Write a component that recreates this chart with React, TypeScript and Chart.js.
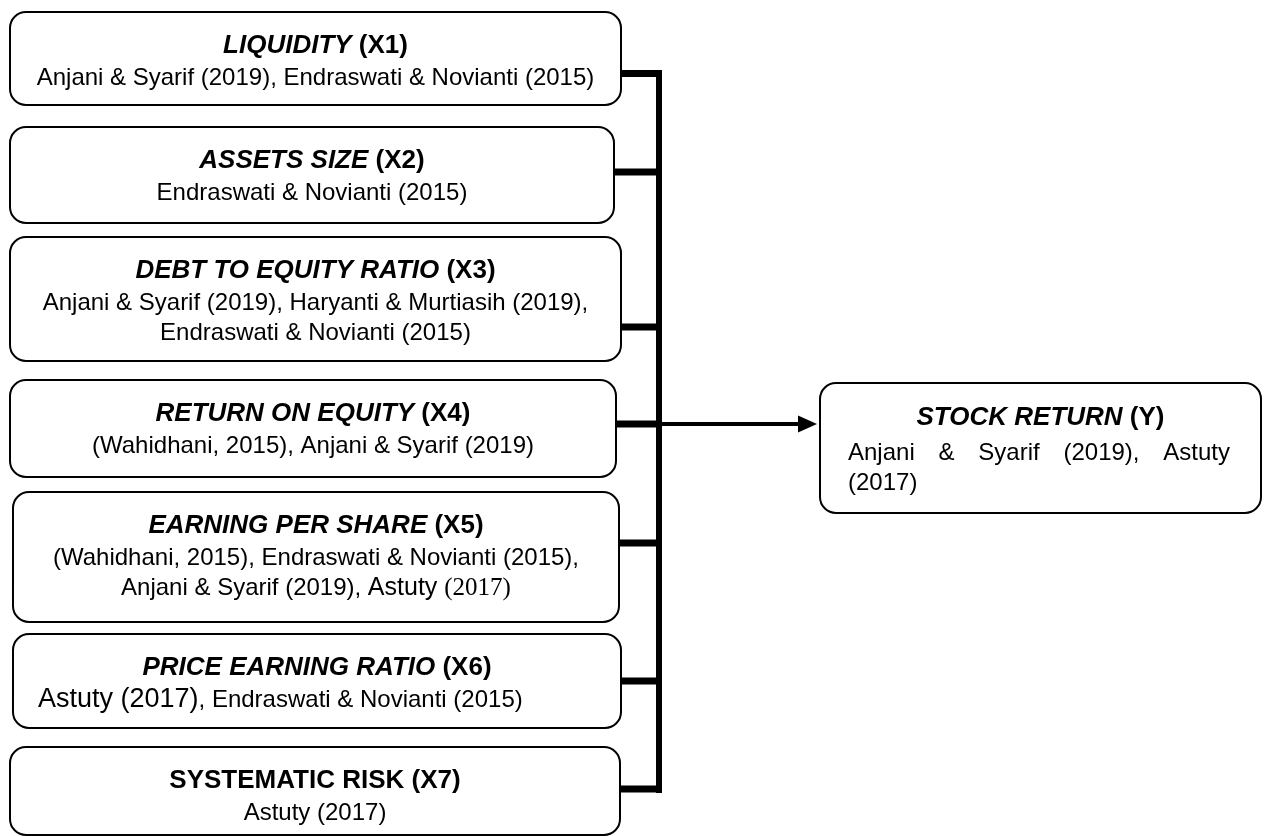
import React, { useEffect, useRef } from 'react';
import { Chart, registerables } from 'chart.js';

Chart.register(...registerables);

const SANS = '"Liberation Sans", Arial, Helvetica, sans-serif';
const SERIF = '"Liberation Serif", "Times New Roman", serif';

// ---- content ----
const factorNames = [
  'LIQUIDITY',
  'ASSETS SIZE',
  'DEBT TO EQUITY RATIO',
  'RETURN ON EQUITY',
  'EARNING PER SHARE',
  'PRICE EARNING RATIO',
  'SYSTEMATIC RISK',
];
const factorCodes = ['(X1)', '(X2)', '(X3)', '(X4)', '(X5)', '(X6)', '(X7)'];
const factorNameItalic = [true, true, true, true, true, true, false];

// each line is a list of runs: [text, kind]  (n = normal, L = larger, S = serif)
type Run = [string, string];
const factorRefs: Run[][][] = [
  [[['Anjani & Syarif (2019), Endraswati & Novianti (2015)', 'n']]],
  [[['Endraswati & Novianti (2015)', 'n']]],
  [
    [['Anjani & Syarif (2019), Haryanti & Murtiasih (2019),', 'n']],
    [['Endraswati & Novianti (2015)', 'n']],
  ],
  [[['(Wahidhani, 2015), Anjani & Syarif (2019)', 'n']]],
  [
    [['(Wahidhani, 2015), Endraswati & Novianti (2015),', 'n']],
    [['Anjani & Syarif (2019), ', 'n'], ['Astuty ', 'M'], ['(2017)', 'S']],
  ],
  [[['Astuty (2017)', 'L'], [', Endraswati & Novianti (2015)', 'n']]],
  [[['Astuty (2017)', 'n']]],
];
const factorAlign = ['center', 'center', 'center', 'center', 'center', 'left', 'center'];

const targetName = 'STOCK RETURN';
const targetCode = '(Y)';
const targetRefs = ['Anjani & Syarif (2019), Astuty', '(2017)'];

// ---- layout in diagram units (x: 0..1267, y: 0..836) ----
const factorLeft = [10, 10, 10, 10, 13, 13, 10];
const factorRight = [621, 614, 621, 616, 619, 621, 620];
const factorTop = [12, 127, 237, 380, 492, 634, 747];
const factorBottom = [105, 223, 361, 477, 622, 728, 835];
const connectorY = [73.5, 172, 327, 424, 543, 681, 789];
const busX = 659;
const busTop = 70;
const busBottom = 793;
const arrowY = 424;
const arrowTip = 817;
const targetBox = { left: 820, right: 1261, top: 383, bottom: 513 };

function runFont(kind: string): string {
  if (kind === 'L') return `normal 400 27px ${SANS}`;
  if (kind === 'M') return `normal 400 25px ${SANS}`;
  if (kind === 'S') return `normal 400 25px ${SERIF}`;
  return `normal 400 24px ${SANS}`;
}

function roundRect(ctx: CanvasRenderingContext2D, x0: number, y0: number, x1: number, y1: number, r: number) {
  ctx.beginPath();
  ctx.moveTo(x0 + r, y0);
  ctx.lineTo(x1 - r, y0);
  ctx.arcTo(x1, y0, x1, y0 + r, r);
  ctx.lineTo(x1, y1 - r);
  ctx.arcTo(x1, y1, x1 - r, y1, r);
  ctx.lineTo(x0 + r, y1);
  ctx.arcTo(x0, y1, x0, y1 - r, r);
  ctx.lineTo(x0, y0 + r);
  ctx.arcTo(x0, y0, x0 + r, y0, r);
  ctx.closePath();
}

function drawTitle(ctx: CanvasRenderingContext2D, name: string, code: string, italic: boolean, cx: number, y: number) {
  const f1 = `${italic ? 'italic' : 'normal'} 700 26px ${SANS}`;
  const f2 = `normal 700 26px ${SANS}`;
  ctx.font = f1;
  const w1 = ctx.measureText(name + ' ').width;
  ctx.font = f2;
  const w2 = ctx.measureText(code).width;
  let x = cx - (w1 + w2) / 2;
  ctx.font = f1;
  ctx.fillText(name + ' ', x, y);
  x += w1;
  ctx.font = f2;
  ctx.fillText(code, x, y);
}

function drawRuns(ctx: CanvasRenderingContext2D, runs: Run[], align: string, cx: number, leftX: number, y: number) {
  let total = 0;
  const widths = runs.map(([t, k]) => {
    ctx.font = runFont(k);
    const w = ctx.measureText(t).width;
    total += w;
    return w;
  });
  let x = align === 'center' ? cx - total / 2 : leftX;
  runs.forEach(([t, k], i) => {
    ctx.font = runFont(k);
    ctx.fillText(t, x, y);
    x += widths[i];
  });
}

const diagramPlugin = {
  id: 'diagramBoxes',
  beforeDatasetsDraw(chart: any) {
    const ctx: CanvasRenderingContext2D = chart.ctx;
    const xs = chart.scales.x;
    const ys = chart.scales.y;
    ctx.save();
    ctx.fillStyle = '#ffffff';
    ctx.strokeStyle = '#000000';
    ctx.lineWidth = 2;
    const boxes = factorNames.map((_, i) => [factorLeft[i], factorTop[i], factorRight[i], factorBottom[i]]);
    boxes.push([targetBox.left, targetBox.top, targetBox.right, targetBox.bottom]);
    boxes.forEach(([l, t, r, b]) => {
      const x0 = xs.getPixelForValue(l);
      const x1 = xs.getPixelForValue(r);
      const y0 = ys.getPixelForValue(t);
      const y1 = ys.getPixelForValue(b);
      roundRect(ctx, x0, y0, x1, y1, 16);
      ctx.fill();
      ctx.stroke();
    });
    ctx.restore();
  },
  afterDatasetsDraw(chart: any) {
    const ctx: CanvasRenderingContext2D = chart.ctx;
    const xs = chart.scales.x;
    const ys = chart.scales.y;
    ctx.save();
    ctx.fillStyle = '#000000';
    ctx.textBaseline = 'alphabetic';
    ctx.textAlign = 'left';

    // arrow head
    const tipX = xs.getPixelForValue(arrowTip);
    const ay = ys.getPixelForValue(arrowY);
    ctx.beginPath();
    ctx.moveTo(tipX, ay);
    ctx.lineTo(tipX - 19, ay - 8.5);
    ctx.lineTo(tipX - 19, ay + 8.5);
    ctx.closePath();
    ctx.fill();

    // factor boxes text
    factorNames.forEach((name, i) => {
      const cx = xs.getPixelForValue((factorLeft[i] + factorRight[i]) / 2);
      const top = factorTop[i];
      drawTitle(ctx, name, factorCodes[i], factorNameItalic[i], cx, ys.getPixelForValue(top + 40.5));
      factorRefs[i].forEach((runs, j) => {
        const y = ys.getPixelForValue(top + 72.5 + 30 * j);
        drawRuns(ctx, runs, factorAlign[i], cx, xs.getPixelForValue(factorLeft[i] + 25), y);
      });
    });

    // target box text
    const tcx = xs.getPixelForValue((targetBox.left + targetBox.right) / 2);
    drawTitle(ctx, targetName, targetCode, true, tcx, ys.getPixelForValue(targetBox.top + 42));
    const jl = xs.getPixelForValue(targetBox.left + 28);
    const jr = xs.getPixelForValue(targetBox.right - 31);
    ctx.font = runFont('n');
    targetRefs.forEach((line, j) => {
      const y = ys.getPixelForValue(targetBox.top + 77 + 30 * j);
      const words = line.split(' ');
      if (j < targetRefs.length - 1 && words.length > 1) {
        const ws = words.map((w) => ctx.measureText(w).width);
        const sum = ws.reduce((a, b) => a + b, 0);
        const gap = (jr - jl - sum) / (words.length - 1);
        let x = jl;
        words.forEach((w, k) => {
          ctx.fillText(w, x, y);
          x += ws[k] + gap;
        });
      } else {
        ctx.fillText(line, jl, y);
      }
    });
    ctx.restore();
  },
};

export default function App() {
  const ref = useRef<HTMLCanvasElement | null>(null);
  useEffect(() => {
    if (!ref.current) return;
    const lineDs = (pts: { x: number; y: number }[], width: number) => ({
      data: pts,
      showLine: true,
      borderColor: '#000000',
      backgroundColor: '#000000',
      borderWidth: width,
      pointRadius: 0,
      borderCapStyle: 'butt' as const,
      tension: 0,
    });
    const datasets: any[] = [
      lineDs([{ x: busX, y: busTop }, { x: busX, y: busBottom }], 6),
      ...connectorY.map((cy, i) => lineDs([{ x: factorRight[i], y: cy }, { x: busX + 3, y: cy }], 7)),
      lineDs([{ x: busX + 3, y: arrowY }, { x: arrowTip - 17, y: arrowY }], 4),
    ];
    const chart = new Chart(ref.current, {
      type: 'scatter',
      data: { datasets },
      options: {
        animation: false,
        responsive: false,
        devicePixelRatio: 1,
        layout: { padding: 0 },
        plugins: { legend: { display: false }, tooltip: { enabled: false } },
        scales: {
          x: { type: 'linear', min: 0, max: 1267, display: false },
          y: { type: 'linear', min: 0, max: 836, reverse: true, display: false },
        },
      },
      plugins: [diagramPlugin],
    });
    return () => chart.destroy();
  }, []);
  return (
    <div style={{ position: 'absolute', left: 0, top: 0, width: 1267, height: 836, background: '#ffffff' }}>
      <canvas ref={ref} width={1267} height={836} style={{ display: 'block' }} />
    </div>
  );
}
